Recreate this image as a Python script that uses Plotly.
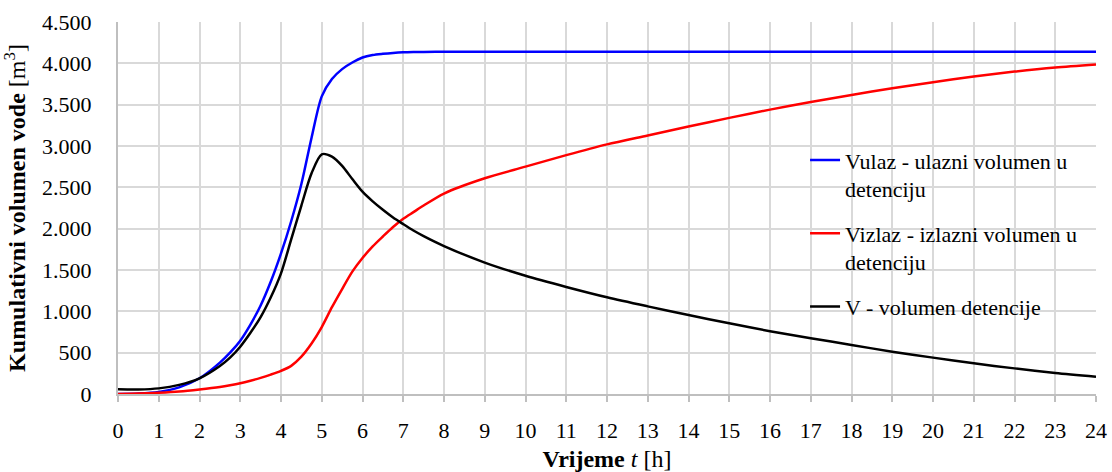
import plotly.graph_objects as go

# Time steps [h]
t = [0, 0.5, 1, 1.5, 2, 2.5, 2.75, 3, 3.25, 3.5, 3.75, 4, 4.25, 4.5, 4.75, 5, 5.25, 5.5, 5.75,
     6, 6.25, 6.5, 6.75, 7, 7.25, 7.5, 8, 9, 10, 11, 12, 13, 14, 15, 16, 17, 18, 19, 20, 21, 22, 23, 24]

# Inflow cumulative volume [m3]
v_ulaz = [0, 5, 25, 80, 190, 380, 500, 645, 840, 1070, 1360, 1700, 2090, 2540, 3100, 3600, 3810, 3930, 4010,
          4070, 4100, 4115, 4126, 4133, 4136, 4138, 4140, 4140, 4140, 4140, 4140, 4141, 4141, 4141, 4141,
          4141, 4141, 4141, 4141, 4141, 4141, 4141, 4141]

# Outflow cumulative volume [m3]
v_izlaz = [0, 5, 15, 30, 55, 85, 105, 129, 160, 195, 235, 280, 340, 451, 610, 810, 1050, 1270, 1480,
           1645, 1785, 1905, 2020, 2120, 2200, 2280, 2425, 2610, 2750, 2890, 3020, 3128, 3236, 3340,
           3440, 3532, 3617, 3698, 3772, 3840, 3900, 3950, 3987]

# Detention volume [m3]
v_det = [57, 55, 68, 110, 190, 339, 440, 572, 740, 930, 1170, 1460, 1870, 2280, 2670, 2900, 2872, 2760, 2600,
         2447, 2330, 2228, 2135, 2055, 1978, 1910, 1790, 1590, 1430, 1295, 1170, 1060, 955, 855, 760,
         675, 593, 512, 440, 371, 310, 255, 210]

x_ticks = list(range(0, 25))
y_ticks = list(range(0, 4501, 500))

FONT = "Liberation Serif"

fig = go.Figure()
series = [
    ("Vulaz - ulazni volumen u<br>detenciju", v_ulaz, "#0000ff"),
    ("Vizlaz - izlazni volumen u<br>detenciju", v_izlaz, "#ff0000"),
    ("V - volumen detencije", v_det, "#000000"),
]
for i, (name, vals, col) in enumerate(series):
    fig.add_trace(go.Scatter(
        x=t, y=vals, mode="lines", name=name, legendgroup=f"g{i}",
        line=dict(color=col, width=2.5, shape="spline", smoothing=0.8),
    ))

fig.update_layout(
    width=1112, height=472,
    margin=dict(l=118, r=16, t=22, b=78),
    paper_bgcolor="white", plot_bgcolor="white",
    separators=",.",
    font=dict(family=FONT, size=22, color="#000000"),
    legend=dict(
        x=0.7025, y=0.685, xanchor="left", yanchor="top",
        bgcolor="rgba(0,0,0,0)", valign="top",
        tracegroupgap=13, font=dict(family=FONT, size=22),
    ),
    xaxis=dict(
        range=[0, 24], tickvals=x_ticks, ticktext=[str(v) for v in x_ticks],
        showgrid=True, gridcolor="#d9d9d9", gridwidth=2,
        showline=True, linecolor="#bfbfbf", linewidth=2,
        ticks="outside", ticklen=6, tickcolor="#bfbfbf", tickwidth=2,
        ticklabelstandoff=10, automargin=False,
        tickfont=dict(family=FONT, size=22),
        zeroline=False,
        title=dict(text="<b>Vrijeme</b> <i>t</i> [h]", font=dict(family=FONT, size=24), standoff=8),
    ),
    yaxis=dict(
        range=[0, 4500], tickvals=y_ticks, tickformat=",d",
        showgrid=True, gridcolor="#d9d9d9", gridwidth=2,
        showline=True, linecolor="#bfbfbf", linewidth=2,
        ticks="", ticklabelstandoff=20, automargin=False,
        tickfont=dict(family=FONT, size=22),
        zeroline=False,
        title=dict(text="<b>Kumulativni volumen vode</b> [m<sup>3</sup>]",
                   font=dict(family=FONT, size=24), standoff=10),
    ),
)

fig.write_html("out.html")
